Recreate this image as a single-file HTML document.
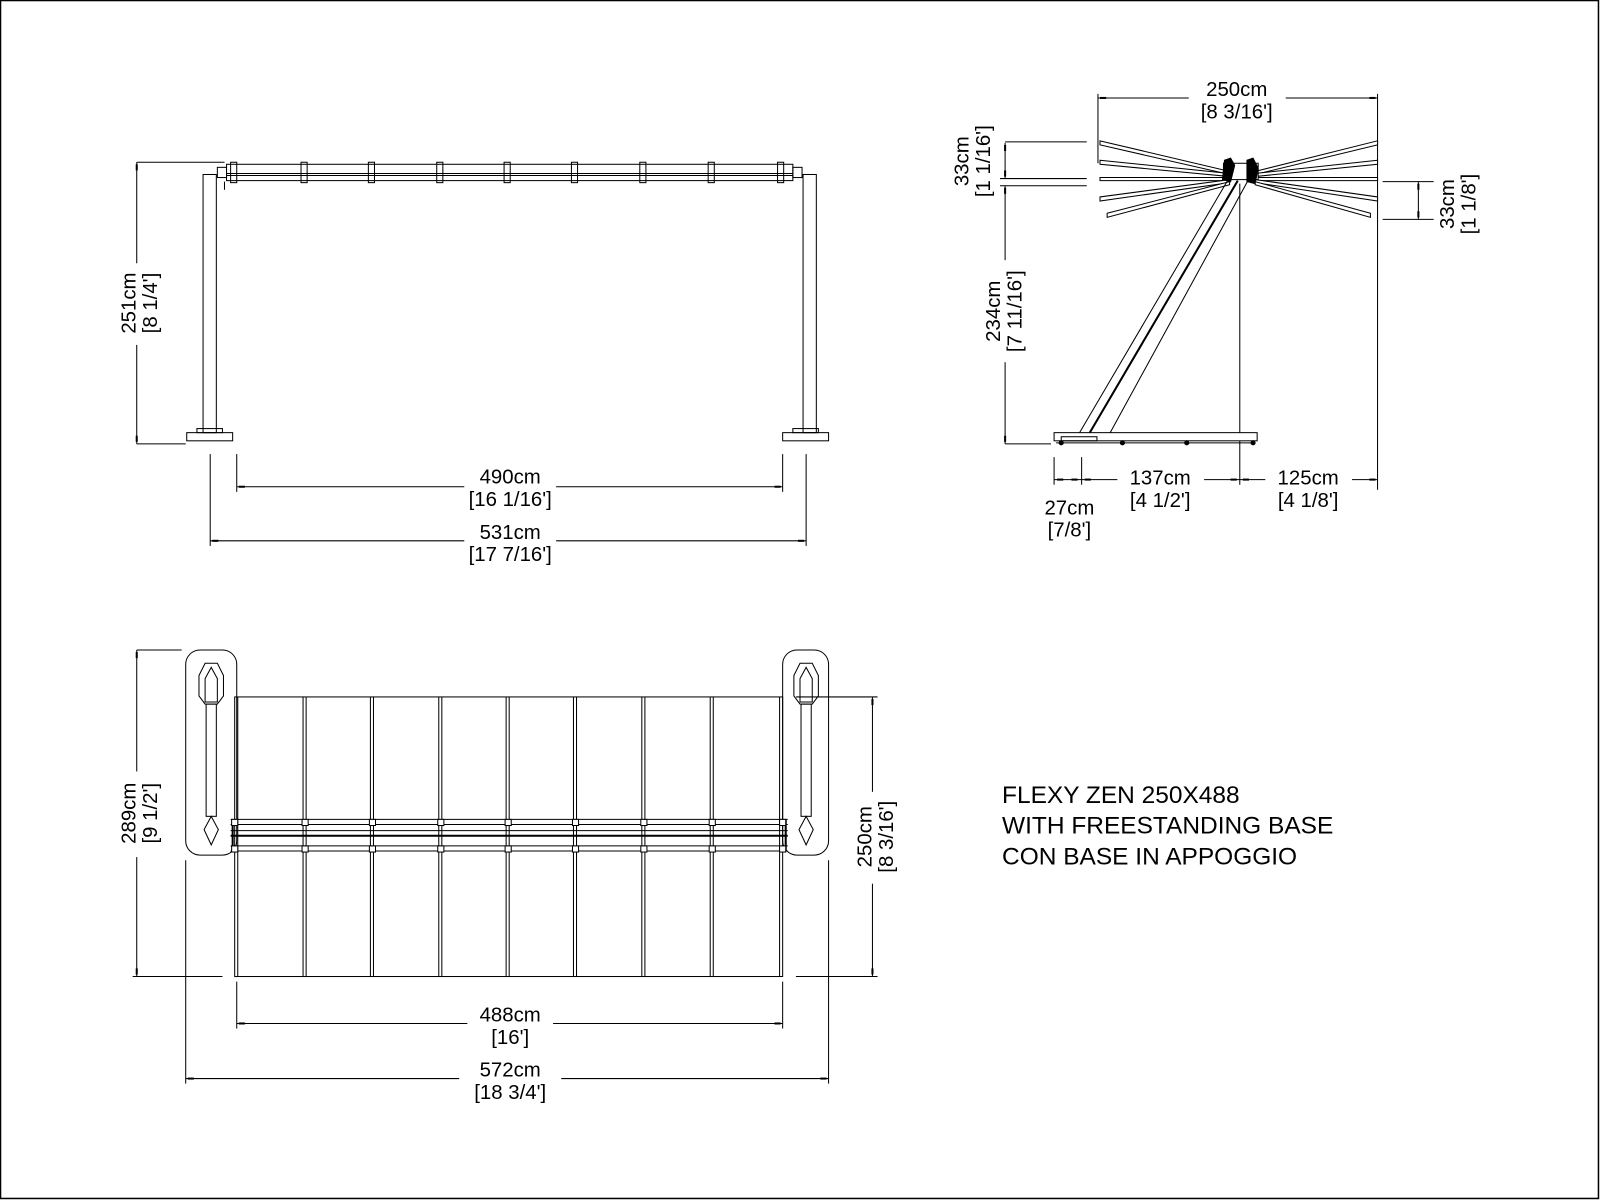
<!DOCTYPE html>
<html><head><meta charset="utf-8"><style>
html,body{margin:0;padding:0;background:#fff}
svg{display:block}
text{font-family:"Liberation Sans",Arial,sans-serif;fill:#000}
</style></head><body>
<svg width="1600" height="1200" viewBox="0 0 1568 1176" preserveAspectRatio="none" xmlns="http://www.w3.org/2000/svg">
<rect x="0.5" y="0.5" width="1566" height="1174" fill="#fff" stroke="#000" stroke-width="1.5"/>
<g stroke="#000" stroke-width="1" fill="none">
<rect x="199" y="171" width="13" height="253"/>
<rect x="183" y="424" width="45" height="8"/>
<rect x="193" y="420" width="25" height="4"/>
<rect x="787" y="171" width="13" height="253"/>
<rect x="767" y="424" width="45" height="8"/>
<rect x="777" y="420" width="25" height="4"/>
<rect x="222" y="161" width="555" height="16"/>
<line x1="222" y1="170" x2="777" y2="170"/>
<line x1="222" y1="172" x2="777" y2="172"/>
<rect x="213" y="164" width="9" height="10"/>
<rect x="777" y="164" width="9" height="10"/>
<rect x="226" y="159" width="6" height="20"/>
<rect x="295" y="159" width="6" height="20"/><rect x="361" y="159" width="6" height="20"/>
<rect x="428" y="159" width="6" height="20"/><rect x="494" y="159" width="6" height="20"/>
<rect x="560" y="159" width="6" height="20"/><rect x="627" y="159" width="6" height="20"/>
<rect x="694" y="159" width="6" height="20"/><rect x="762" y="159" width="6" height="20"/>
<line x1="220" y1="178" x2="220" y2="186"/>
<line x1="134" y1="159" x2="134" y2="435"/>
<line x1="134" y1="159" x2="220" y2="159"/>
<line x1="134" y1="435" x2="182" y2="435"/>
<line x1="232" y1="477" x2="767" y2="477"/>
<line x1="232" y1="445" x2="232" y2="482"/>
<line x1="767" y1="445" x2="767" y2="482"/>
<line x1="206" y1="530" x2="790" y2="530"/>
<line x1="206" y1="445" x2="206" y2="535"/>
<line x1="790" y1="445" x2="790" y2="535"/>

<rect x="182" y="637" width="50" height="201" rx="14"/>
<rect x="767" y="637" width="45" height="201" rx="14"/>
<path d="M195 662 L201 650 L213 650 L219 662 L219 682 L213 690 L201 690 L195 682 Z"/>
<path d="M201 665 L207 654 L213 665 L213 688 L201 688 Z"/>
<rect x="202" y="690" width="10" height="110"/>
<path d="M207 800 L214 813 L207 828 L200 813 Z"/>
<path d="M778 662 L784 650 L796 650 L802 662 L802 682 L796 690 L784 690 L778 682 Z"/>
<path d="M784 665 L790 654 L796 665 L796 688 L784 688 Z"/>
<rect x="785" y="690" width="10" height="110"/>
<path d="M790 800 L797 813 L790 828 L783 813 Z"/>
<rect x="230" y="683" width="537" height="274"/>
<line x1="233" y1="683" x2="233" y2="957"/>
<g>
<line x1="297" y1="683" x2="297" y2="957"/><line x1="300" y1="683" x2="300" y2="957"/>
<line x1="363" y1="683" x2="363" y2="957"/><line x1="366" y1="683" x2="366" y2="957"/>
<line x1="430" y1="683" x2="430" y2="957"/><line x1="433" y1="683" x2="433" y2="957"/>
<line x1="496" y1="683" x2="496" y2="957"/><line x1="499" y1="683" x2="499" y2="957"/>
<line x1="562" y1="683" x2="562" y2="957"/><line x1="565" y1="683" x2="565" y2="957"/>
<line x1="629" y1="683" x2="629" y2="957"/><line x1="632" y1="683" x2="632" y2="957"/>
<line x1="696" y1="683" x2="696" y2="957"/><line x1="699" y1="683" x2="699" y2="957"/>
<line x1="764" y1="683" x2="764" y2="957"/>
</g>
<line x1="226" y1="803" x2="772" y2="803"/>
<line x1="226" y1="808" x2="772" y2="808"/>
<line x1="226" y1="814" x2="772" y2="814"/>
<line x1="226" y1="819" x2="772" y2="819" stroke-width="2"/>
<line x1="226" y1="829" x2="772" y2="829"/>
<line x1="226" y1="834" x2="772" y2="834"/>
<line x1="228" y1="803" x2="228" y2="834" stroke-width="2"/>
<line x1="770" y1="803" x2="770" y2="834" stroke-width="2"/>
<g fill="#fff">
<rect x="227" y="803" width="6" height="6"/><rect x="296" y="803" width="6" height="6"/><rect x="362" y="803" width="6" height="6"/><rect x="429" y="803" width="6" height="6"/><rect x="495" y="803" width="6" height="6"/><rect x="561" y="803" width="6" height="6"/><rect x="628" y="803" width="6" height="6"/><rect x="695" y="803" width="6" height="6"/><rect x="764" y="803" width="6" height="6"/>
<rect x="227" y="829" width="6" height="6"/><rect x="296" y="829" width="6" height="6"/><rect x="362" y="829" width="6" height="6"/><rect x="429" y="829" width="6" height="6"/><rect x="495" y="829" width="6" height="6"/><rect x="561" y="829" width="6" height="6"/><rect x="628" y="829" width="6" height="6"/><rect x="695" y="829" width="6" height="6"/><rect x="764" y="829" width="6" height="6"/>
</g>
<line x1="134" y1="637" x2="134" y2="957"/>
<line x1="134" y1="637" x2="178" y2="637"/>
<line x1="130" y1="957" x2="218" y2="957"/>
<line x1="855" y1="683" x2="855" y2="957"/>
<line x1="780" y1="683" x2="860" y2="683"/>
<line x1="780" y1="957" x2="860" y2="957"/>
<line x1="232" y1="1003" x2="767" y2="1003"/>
<line x1="232" y1="962" x2="232" y2="1008"/>
<line x1="767" y1="962" x2="767" y2="1008"/>
<line x1="182" y1="1057" x2="812" y2="1057"/>
<line x1="182" y1="843" x2="182" y2="1062"/>
<line x1="812" y1="843" x2="812" y2="1062"/>

<line x1="1076" y1="96" x2="1350" y2="96"/>
<line x1="1076" y1="92" x2="1076" y2="160"/>
<line x1="1350" y1="92" x2="1350" y2="480"/>
<g fill="#fff">
<polygon points="1078,138 1205,168 1205,171 1078,142"/>
<polygon points="1078,157 1205,170 1205,173 1078,161"/>
<polygon points="1078,174 1205,174 1205,177 1078,177"/>
<polygon points="1078,193 1205,176 1205,179 1078,197"/>
<polygon points="1085,209 1205,178 1205,181 1085,213"/>
<polygon points="1350,138 1230,168 1230,171 1350,142"/>
<polygon points="1350,157 1230,170 1230,173 1350,161"/>
<polygon points="1350,174 1230,174 1230,177 1350,177"/>
<polygon points="1350,193 1230,176 1230,179 1350,197"/>
<polygon points="1343,209 1230,178 1230,181 1343,213"/>
</g>
<rect x="1199" y="160" width="34" height="16" fill="#fff"/>
<path d="M1200 157 L1206 155 L1210 162 L1206 178 L1198 176 Z" fill="#000"/>
<path d="M1222 157 L1228 155 L1233 165 L1230 180 L1222 178 Z" fill="#000"/>
<line x1="1203" y1="177" x2="1058" y2="424"/>
<line x1="1223" y1="177" x2="1088" y2="424"/>
<line x1="1213" y1="177" x2="1068" y2="424" stroke-width="2"/>
<line x1="1215" y1="180" x2="1215" y2="475"/>
<rect x="1033" y="424" width="199" height="8" fill="#fff"/>
<rect x="1040" y="428" width="35" height="4"/>
<line x1="1035" y1="434" x2="1230" y2="434"/>
<g fill="#000"><circle cx="1040" cy="434" r="2"/><circle cx="1100" cy="434" r="2"/><circle cx="1163" cy="434" r="2"/><circle cx="1228" cy="434" r="2"/></g>
<line x1="985" y1="140" x2="985" y2="175"/>
<line x1="985" y1="182" x2="985" y2="435"/>
<line x1="985" y1="139" x2="1065" y2="139"/>
<line x1="980" y1="175" x2="1065" y2="175"/>
<line x1="980" y1="182" x2="1065" y2="182"/>
<line x1="985" y1="435" x2="1030" y2="435"/>
<line x1="1390" y1="178" x2="1390" y2="215"/>
<line x1="1355" y1="178" x2="1405" y2="178"/>
<line x1="1355" y1="215" x2="1405" y2="215"/>
<line x1="1033" y1="470" x2="1350" y2="470"/>
<line x1="1033" y1="448" x2="1033" y2="475"/>
<line x1="1060" y1="448" x2="1060" y2="475"/>
</g>
<g fill="#000">
<rect x="1078" y="95" width="6" height="2"/><rect x="1342" y="95" width="6" height="2"/>
<rect x="1036" y="469" width="6" height="2"/><rect x="1050" y="469" width="6" height="2"/><rect x="1063" y="469" width="6" height="2"/><rect x="1206" y="469" width="6" height="2"/><rect x="1218" y="469" width="6" height="2"/><rect x="1342" y="469" width="6" height="2"/>
<rect x="984" y="142" width="2" height="6"/><rect x="984" y="167" width="2" height="6"/><rect x="984" y="184" width="2" height="6"/><rect x="984" y="427" width="2" height="6"/>
<rect x="1389" y="180" width="2" height="6"/><rect x="1389" y="207" width="2" height="6"/>
<rect x="133" y="161" width="2" height="6"/><rect x="133" y="427" width="2" height="6"/>
<rect x="133" y="639" width="2" height="6"/><rect x="133" y="949" width="2" height="6"/>
<rect x="854" y="685" width="2" height="6"/><rect x="854" y="949" width="2" height="6"/>
<rect x="234" y="476" width="6" height="2"/><rect x="759" y="476" width="6" height="2"/>
<rect x="208" y="529" width="6" height="2"/><rect x="782" y="529" width="6" height="2"/>
<rect x="234" y="1002" width="6" height="2"/><rect x="759" y="1002" width="6" height="2"/>
<rect x="184" y="1056" width="6" height="2"/><rect x="804" y="1056" width="6" height="2"/>
</g>
<g fill="#fff">
<rect x="455" y="462" width="90" height="30"/><rect x="455" y="515" width="90" height="30"/>
<rect x="458" y="988" width="84" height="30"/><rect x="450" y="1042" width="100" height="30"/>
<rect x="1165" y="82" width="95" height="30"/>
<rect x="1095" y="458" width="85" height="26"/><rect x="1240" y="458" width="85" height="26"/>
<rect x="116" y="258" width="44" height="80"/><rect x="116" y="756" width="44" height="84"/>
<rect x="836" y="776" width="44" height="90"/><rect x="963" y="255" width="44" height="100"/>
</g>
<g font-size="20" text-anchor="middle">
<text x="500" y="474">490cm</text><text x="500" y="496">[16 1/16']</text>
<text x="500" y="528">531cm</text><text x="500" y="550">[17 7/16']</text>
<text x="500" y="1001">488cm</text><text x="500" y="1023">[16']</text>
<text x="500" y="1055">572cm</text><text x="500" y="1077">[18 3/4']</text>
<text x="1212" y="94">250cm</text><text x="1212" y="116">[8 3/16']</text>
<text x="1137" y="475">137cm</text><text x="1137" y="497">[4 1/2']</text>
<text x="1282" y="475">125cm</text><text x="1282" y="497">[4 1/8']</text>
<text x="1048" y="504">27cm</text><text x="1048" y="526">[7/8']</text>
<g transform="translate(133,297) rotate(-90)"><text x="0" y="0">251cm</text><text x="0" y="21">[8 1/4']</text></g>
<g transform="translate(133,797) rotate(-90)"><text x="0" y="0">289cm</text><text x="0" y="21">[9 1/2']</text></g>
<g transform="translate(854,820) rotate(-90)"><text x="0" y="0">250cm</text><text x="0" y="21">[8 3/16']</text></g>
<g transform="translate(949,158) rotate(-90)"><text x="0" y="0">33cm</text><text x="0" y="21">[1 1/16']</text></g>
<g transform="translate(980,305) rotate(-90)"><text x="0" y="0">234cm</text><text x="0" y="21">[7 11/16']</text></g>
<g transform="translate(1425,200) rotate(-90)"><text x="0" y="0">33cm</text><text x="0" y="21">[1 1/8']</text></g>
</g>
<g font-size="24">
<text x="982" y="787">FLEXY ZEN 250X488</text>
<text x="982" y="817">WITH FREESTANDING BASE</text>
<text x="982" y="847">CON BASE IN APPOGGIO</text>
</g>
</svg>
</body></html>
